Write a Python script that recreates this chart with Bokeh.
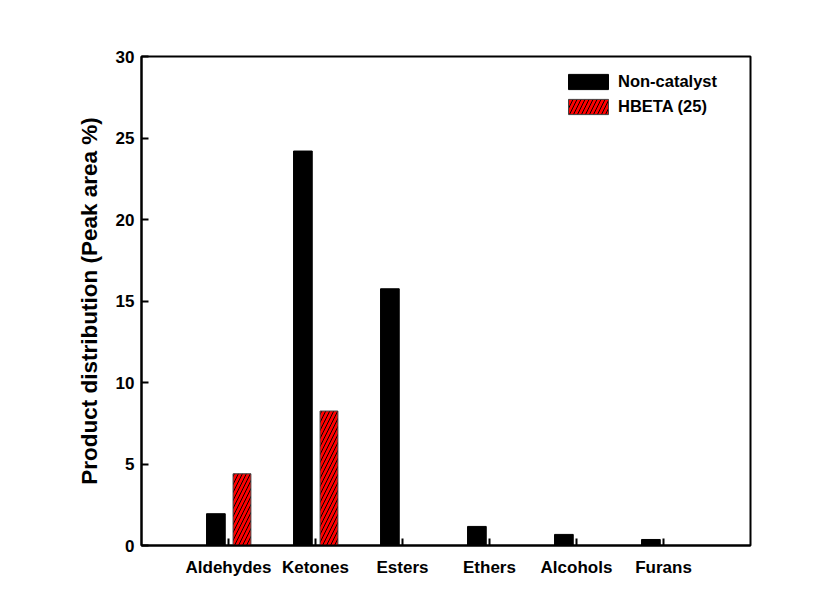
from bokeh.plotting import figure
from bokeh.models import Range1d, FixedTicker, Legend, LegendItem, ColumnDataSource
from bokeh.embed import file_html
from bokeh.resources import INLINE

categories = ["Aldehydes", "Ketones", "Esters", "Ethers", "Alcohols", "Furans"]
non_catalyst = [1.95, 24.2, 15.75, 1.17, 0.68, 0.37]
hbeta = [4.4, 8.25, 0.0, 0.0, 0.0, 0.0]
y_ticks = [0, 5, 10, 15, 20, 25, 30]

FONT = "Liberation Sans"

p = figure(width=835, height=605, output_backend="svg", toolbar_location=None,
           x_range=Range1d(-1, 6), y_range=Range1d(0, 30),
           min_border_left=141, min_border_right=85, min_border_top=56, min_border_bottom=60)

xs = list(range(len(categories)))
src1 = ColumnDataSource(dict(x=[i - 0.145 for i in xs], top=non_catalyst))
idx2 = [i for i in xs if hbeta[i] > 0]
src2 = ColumnDataSource(dict(x=[i + 0.155 for i in idx2], top=[hbeta[i] for i in idx2]))

r1 = p.vbar(x="x", top="top", bottom=0, width=0.215, source=src1,
            fill_color="black", line_color="black", line_width=1)
r2 = p.vbar(x="x", top="top", bottom=0, width=0.205, source=src2,
            fill_color="red", line_color="#444444", line_width=1,
            hatch_pattern="right_diagonal_line", hatch_color="black",
            hatch_scale=8, hatch_weight=1)

p.grid.visible = False
p.outline_line_color = "black"
p.outline_line_width = 2
p.outline_line_alpha = 1

# x axis
xa = p.xaxis[0]
xa.ticker = FixedTicker(ticks=xs)
xa.major_label_overrides = {i: c for i, c in enumerate(categories)}
xa.major_tick_in = 7
xa.major_tick_out = 0
xa.minor_tick_line_color = None
xa.axis_line_width = 2
xa.major_tick_line_width = 2
xa.major_label_standoff = 12
xa.major_label_text_font = FONT
xa.major_label_text_font_style = "bold"
xa.major_label_text_font_size = "17px"
xa.major_label_text_color = "black"

# y axis
ya = p.yaxis[0]
ya.ticker = FixedTicker(ticks=y_ticks)
ya.major_tick_in = 7
ya.major_tick_out = 0
ya.minor_tick_line_color = None
ya.axis_line_width = 2
ya.major_tick_line_width = 2
ya.major_label_standoff = 7
ya.major_label_text_font = FONT
ya.major_label_text_font_style = "bold"
ya.major_label_text_font_size = "17px"
ya.major_label_text_color = "black"
ya.axis_label = "Product distribution (Peak area %)"
ya.axis_label_text_font = FONT
ya.axis_label_text_font_style = "bold"
ya.axis_label_text_font_size = "22.5px"
ya.axis_label_text_color = "black"
ya.axis_label_standoff = 11

legend = Legend(items=[LegendItem(label="Non-catalyst", renderers=[r1]),
                       LegendItem(label="HBETA (25)", renderers=[r2])],
                location=(422, 429), padding=0, margin=0, spacing=6,
                glyph_width=50, glyph_height=19, label_standoff=5,
                border_line_color=None, background_fill_alpha=0,
                label_text_font=FONT, label_text_font_style="bold",
                label_text_font_size="16.5px", label_text_color="black")
p.add_layout(legend)

open("out.html", "w").write(file_html(p, INLINE))
